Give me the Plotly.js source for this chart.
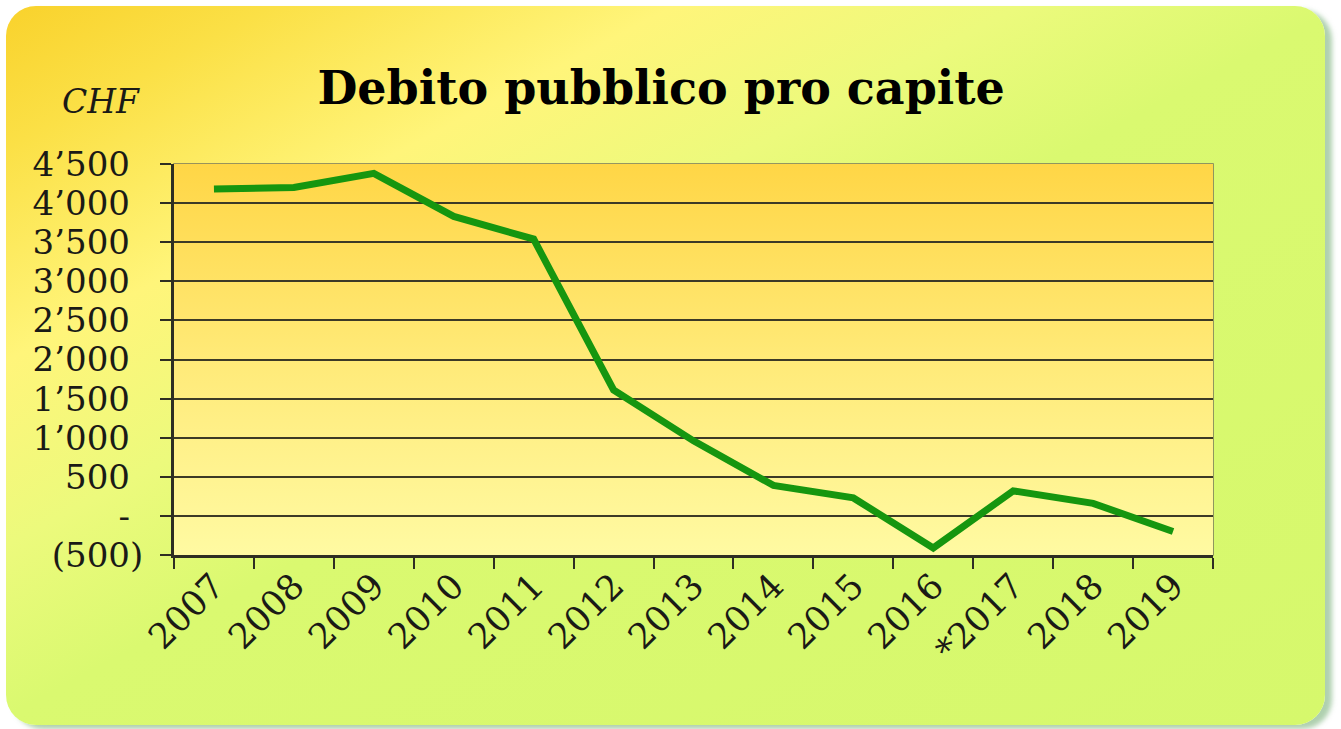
<!DOCTYPE html>
<html>
<head>
<meta charset="utf-8">
<script src="https://cdn.plot.ly/plotly-3.0.1.min.js"></script>
<style>
  html, body { margin: 0; padding: 0; background: #ffffff; }
  #wrap { position: relative; width: 1341px; height: 729px; overflow: hidden; }
  #bg {
    position: absolute; left: 6px; top: 6px; width: 1319px; height: 719px;
    border-radius: 30px;
    background: linear-gradient(152deg, #F9D22C 0%, #FBE046 10%, #FFF57A 25%, #ECFA7C 38%, #DAF970 50%, #D6F86C 100%);
    box-shadow: 7px 4px 5px rgba(110, 170, 110, 0.55);
  }
  #chart { position: absolute; left: 0; top: 0; width: 1341px; height: 729px; }
</style>
</head>
<body>
<div id="wrap">
  <div id="bg"></div>
  <div id="chart"></div>
</div>
<script>
// ---- data ----
const years = ['2007', '2008', '2009', '2010', '2011', '2012', '2013', '2014', '2015', '2016', '*2017', '2018', '2019'];
const debtPerCapita = [4180, 4200, 4380, 3830, 3540, 1610, 960, 390, 230, -410, 320, 160, -200];
const yTickValues = [-500, 0, 500, 1000, 1500, 2000, 2500, 3000, 3500, 4000, 4500];
const yTickLabels = ['(500)', '-', '500', '1\u2019000', '1\u2019500', '2\u2019000', '2\u2019500', '3\u2019000', '3\u2019500', '4\u2019000', '4\u2019500'];
const chartTitle = 'Debito pubblico pro capite';
const unitLabel = 'CHF';

// invisible trailing parenthesis keeps alignment like the accounting format
const padParen = '<span style="color:rgba(0,0,0,0)">)</span>';
const yTickText = yTickLabels.map(t => t.startsWith('(') ? t : t + padParen);

const plotGrad = '<svg xmlns="http://www.w3.org/2000/svg" width="100" height="100" preserveAspectRatio="none">' +
  '<defs><linearGradient id="g" x1="0" y1="0" x2="0" y2="1">' +
  '<stop offset="0" stop-color="#FFD646"/><stop offset="0.5" stop-color="#FFEA78"/><stop offset="1" stop-color="#FFFAA2"/>' +
  '</linearGradient></defs><rect width="100" height="100" fill="url(#g)"/></svg>';
const plotGradURI = 'data:image/svg+xml;charset=utf-8,' + encodeURIComponent(plotGrad);

const trace = {
  x: years,
  y: debtPerCapita,
  type: 'scatter',
  mode: 'lines',
  line: { color: '#16960F', width: 7 },
  hoverinfo: 'skip'
};

const serif = 'DejaVu Serif, Liberation Serif, serif';

const layout = {
  width: 1341,
  height: 729,
  paper_bgcolor: 'rgba(0,0,0,0)',
  plot_bgcolor: 'rgba(0,0,0,0)',
  margin: { l: 174, r: 128, t: 164, b: 174, pad: 0 },
  showlegend: false,
  title: {
    text: '<b>' + chartTitle + '</b>',
    font: { family: serif, size: 46, color: '#000000' },
    x: 0.493, xanchor: 'center', xref: 'container',
    y: 0.879, yanchor: 'middle', yref: 'container'
  },
  xaxis: {
    type: 'category',
    range: [-0.5, 12.5],
    tickson: 'boundaries',
    ticks: 'outside', ticklen: 11, tickwidth: 2, tickcolor: '#2e2e22',
    showline: true, linecolor: '#2e2e22', linewidth: 2.5,
    showgrid: false, zeroline: false,
    tickangle: -45,
    ticklabelstandoff: -6,
    tickfont: { family: serif, size: 35, color: '#1a1a16' },
    fixedrange: true
  },
  yaxis: {
    range: [-500, 4500],
    tickmode: 'array',
    tickvals: yTickValues,
    ticktext: yTickText,
    ticks: 'outside', ticklen: 11, tickwidth: 2, tickcolor: '#2e2e22',
    showline: true, linecolor: '#2e2e22', linewidth: 3,
    showgrid: true, gridcolor: '#3c3a26', gridwidth: 2,
    zeroline: false,
    ticklabelstandoff: 10,
    tickfont: { family: serif, size: 34, color: '#1a1a16' },
    fixedrange: true
  },
  images: [{
    source: plotGradURI,
    xref: 'x domain', yref: 'y domain',
    x: 0, y: 1, sizex: 1, sizey: 1,
    xanchor: 'left', yanchor: 'top',
    sizing: 'stretch', layer: 'below'
  }],
  shapes: [{
    type: 'rect', xref: 'x domain', yref: 'y domain',
    x0: 0, x1: 1, y0: 0, y1: 1,
    line: { color: '#77765a', width: 1.5 },
    layer: 'below'
  }],
  annotations: [{
    text: '<i>' + unitLabel + '</i>',
    xref: 'paper', yref: 'paper',
    x: -0.11, xanchor: 'left',
    y: 1.159, yanchor: 'middle',
    showarrow: false,
    font: { family: serif, size: 33, color: '#1a1a16' }
  }]
};

Plotly.newPlot('chart', [trace], layout, { displayModeBar: false, staticPlot: true });
</script>
</body>
</html>
